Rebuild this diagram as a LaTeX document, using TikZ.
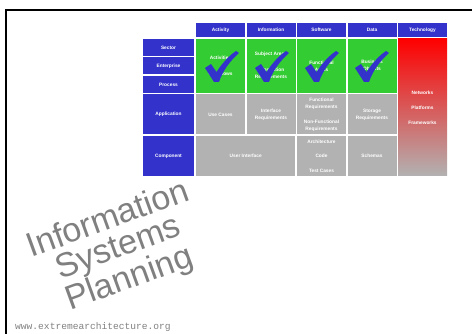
\documentclass[tikz,border=0pt]{standalone}
\usepackage{fontspec}
\setmainfont{Liberation Sans}
\newfontfamily\urlfont{Liberation Mono}
\definecolor{cblue}{RGB}{51,51,204}
\definecolor{cgreen}{RGB}{51,204,51}
\definecolor{cgrey}{RGB}{178,178,178}
\definecolor{ctitle}{RGB}{128,128,128}

\begin{document}
\begin{tikzpicture}[x=1pt,y=-1pt,
  every node/.style={inner sep=0pt,align=center,text=white,font=\fontsize{4.8}{7}\selectfont\bfseries},
  head node/.style={rectangle,fill=cblue,minimum width=49pt,minimum height=14pt},
  row node/.style={rectangle,fill=cblue,minimum width=51pt,minimum height=17pt},
  green node/.style={rectangle,fill=cgreen,minimum width=49pt,minimum height=54pt},
  grey node/.style={rectangle,fill=cgrey,minimum width=49pt,minimum height=40pt}]
  \useasboundingbox (0,0) rectangle (472,334);
  \draw[line width=2pt] (6,334) |- (472,10);

  % column heads
  \node[head node] (activity) at (220.5,30) {Activity};
  \node[head node] (information) at (271,30) {Information};
  \node[head node] (software) at (321.5,30) {Software};
  \node[head node] (data) at (372,30) {Data};
  \node[head node] (technology) at (422.5,30) {Technology};

  % row heads
  \node[row node] (sector) at (168.5,47.5) {Sector};
  \node[row node] (enterprise) at (168.5,66) {Enterprise};
  \node[row node] (process) at (168.5,84.5) {Process};
  \node[row node,minimum height=40pt] (application) at (168.5,114.5) {Application};
  \node[row node,minimum height=40pt] (component) at (168.5,156) {Component};

  % upper cells
  \node[green node] (act top) at (220.5,66) {Activities\\[9pt]Workflows};
  \node[green node] (info top) at (271,66) {Subject Areas\\[9pt]Information\\Requirements};
  \node[green node] (soft top) at (321.5,66) {Functional\\Areas};
  \node[green node] (data top) at (372,66) {Business\\Objects};

  % lower cells
  \node[grey node] (act app) at (220.5,114.5) {Use Cases};
  \node[grey node] (info app) at (271,114.5) {Interface\\Requirements};
  \node[grey node] (soft app) at (321.5,114.5) {Functional\\Requirements\\[8pt]Non-Functional\\Requirements};
  \node[grey node] (data app) at (372,114.5) {Storage\\Requirements};
  \node[grey node,minimum width=99pt] (ui comp) at (245.75,156) {User Interface};
  \node[grey node] (soft comp) at (321.5,156) {Architecture\\[7.5pt]Code\\[7.5pt]Test Cases};
  \node[grey node] (data comp) at (372,156) {Schemas};
  \node[rectangle,minimum width=49pt,minimum height=137pt,top color=red,bottom color=cgrey]
    (tech) at (422.5,107.5) {Networks\\[8pt]Platforms\\[8pt]Frameworks};

  % ticks
  \foreach \cx in {205,255,305,355}
    \fill[cblue,shift={(\cx,51)}] (0,17) -- (6,13) -- (11.5,21)
      .. controls (18,11) and (25,4) .. (31,0) -- (34,2)
      .. controls (26,9) and (18,19) .. (14,31) -- (9,31) -- cycle;

  \node[text=ctitle,font=\fontsize{34}{30}\selectfont,rotate=20] (title) at (119,250)
    {Information\\Systems\\Planning};
  \node[text=ctitle,font=\fontsize{9.6}{10}\urlfont,anchor=west] (url) at (15,327)
    {www.extremearchitecture.org};
\end{tikzpicture}
\end{document}
